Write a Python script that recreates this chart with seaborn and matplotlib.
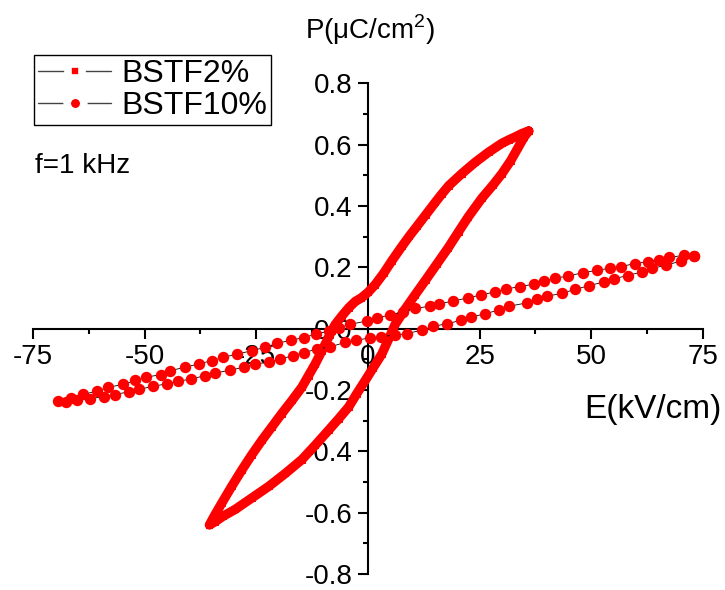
import pandas as pd
import seaborn as sns
import matplotlib.pyplot as plt
from matplotlib.lines import Line2D
from matplotlib.ticker import MultipleLocator, FormatStrFormatter

# BSTF2% loop, upper branch (E going down) then lower branch (E going up)
E2_up = [36.0, 34.5, 33.0, 31.5, 30.0, 27.0, 24.0, 21.0, 18.1, 16.5, 15.1, 13.0, 11.0, 9.3, 7.6,
         5.4, 3.5, 1.6, 0.0, -1.5, -2.8, -4.3, -5.8, -7.3, -8.1, -9.2, -10.3, -11.8, -13.3, -14.8,
         -17.0, -19.3, -21.5, -23.7, -26.0, -28.2, -30.5, -32.7, -34.3, -35.5]
P2_up = [0.644, 0.636, 0.625, 0.615, 0.604, 0.575, 0.542, 0.505, 0.466, 0.438, 0.412, 0.372, 0.334, 0.302, 0.268,
         0.222, 0.180, 0.143, 0.118, 0.100, 0.089, 0.068, 0.042, 0.014, -0.007, -0.040, -0.072, -0.115, -0.153, -0.191,
         -0.234, -0.277, -0.320, -0.363, -0.411, -0.460, -0.514, -0.568, -0.608, -0.640]
E2_dn = [-35.5, -34.3, -32.5, -29.7, -26.0, -22.2, -18.5, -14.8, -11.8, -8.8, -6.5, -4.3, -2.5, -0.6,
         1.2, 3.1, 4.6, 6.1, 8.3, 10.6, 13.0, 15.5, 18.0, 20.3, 22.5, 25.5, 28.0, 30.0, 32.0, 33.7,
         35.0, 36.0]
P2_dn = [-0.640, -0.630, -0.612, -0.589, -0.552, -0.514, -0.472, -0.427, -0.380, -0.331, -0.293, -0.255, -0.212, -0.169,
         -0.127, -0.083, -0.035, 0.014, 0.063, 0.111, 0.160, 0.212, 0.264, 0.316, 0.365, 0.425, 0.468, 0.505, 0.548, 0.592,
         0.625, 0.644]

# BSTF10% loop
E10_up = [73.1, 70.7, 67.4, 65.1, 62.8, 59.7, 56.6, 54.3, 51.2, 48.1, 44.9, 41.8, 39.5, 37.2, 34.0,
          30.9, 28.5, 25.4, 22.3, 19.1, 16.0, 13.8, 10.6, 7.8, 5.0, 2.0, -0.2, -4.0, -6.5, -8.8,
          -11.6, -14.4, -17.2, -20.4, -23.0, -26.0, -29.3, -32.5, -34.9, -37.9, -41.0, -44.3, -46.3,
          -49.7, -52.1, -54.8, -58.2, -60.7, -63.7, -66.6, -69.4]
P10_up = [0.236, 0.239, 0.232, 0.225, 0.218, 0.212, 0.202, 0.197, 0.190, 0.182, 0.172, 0.164, 0.155, 0.145, 0.137,
          0.129, 0.120, 0.110, 0.100, 0.090, 0.081, 0.073, 0.066, 0.055, 0.044, 0.036, 0.025, 0.014, 0.003, -0.008,
          -0.018, -0.029, -0.038, -0.048, -0.061, -0.072, -0.083, -0.094, -0.104, -0.115, -0.126, -0.137, -0.150,
          -0.158, -0.169, -0.182, -0.191, -0.204, -0.214, -0.225, -0.236]
E10_dn = [-67.6, -65.1, -62.2, -59.2, -56.7, -53.6, -51.2, -48.2, -45.0, -42.6, -39.6, -36.4, -34.2,
          -30.8, -27.8, -25.4, -22.2, -19.6, -16.8, -14.4, -11.4, -8.4, -5.1, -2.7, 0.5, 3.0, 6.1,
          8.7, 12.1, 14.5, 17.7, 20.8, 23.1, 26.2, 29.3, 31.6, 35.6, 37.9, 40.2, 43.4, 46.4, 49.5,
          52.8, 55.1, 58.2, 61.3, 63.6, 66.8, 70.0, 73.1]
P10_dn = [-0.239, -0.234, -0.228, -0.222, -0.215, -0.206, -0.198, -0.188, -0.180, -0.172, -0.164, -0.153, -0.145,
          -0.135, -0.126, -0.115, -0.110, -0.099, -0.088, -0.078, -0.067, -0.059, -0.045, -0.038, -0.030, -0.026, -0.021,
          -0.016, -0.005, 0.007, 0.016, 0.027, 0.038, 0.048, 0.061, 0.073, 0.084, 0.096, 0.106, 0.115, 0.128, 0.140,
          0.152, 0.163, 0.173, 0.185, 0.196, 0.207, 0.220, 0.236]

labels = ["BSTF2%", "BSTF10%"]

sns.set_theme(style="ticks")
plt.rcParams['font.family'] = ['Liberation Sans', 'DejaVu Sans']
plt.rcParams['text.color'] = 'black'
plt.rcParams['axes.unicode_minus'] = False
plt.rcParams['mathtext.fontset'] = 'custom'
plt.rcParams['mathtext.rm'] = 'Liberation Sans'

bstf2 = pd.DataFrame({"E": E2_up + E2_dn, "P": P2_up + P2_dn})
bstf10 = pd.DataFrame({"E": E10_up + E10_dn, "P": P10_up + P10_dn})

fig = plt.figure(figsize=(7.25, 5.9), dpi=100)
ax = fig.add_axes([0.0455, 0.027, 0.924, 0.832])

sns.lineplot(data=bstf2, x="E", y="P", sort=False, estimator=None, color="red", lw=6.8,
             marker="s", ms=5, mec="red", mfc="red", ax=ax, zorder=3)
sns.lineplot(data=bstf10, x="E", y="P", sort=False, estimator=None, color="black", lw=0.6,
             marker="o", ms=8.2, mec="red", mfc="red", mew=0, ax=ax, zorder=3)

ax.set_xlim(-75, 75)
ax.set_ylim(-0.8, 0.8)
ax.set_xlabel("")
ax.set_ylabel("")
ax.spines['left'].set_position(('data', 0))
ax.spines['bottom'].set_position(('data', 0))
ax.spines['right'].set_visible(False)
ax.spines['top'].set_visible(False)
for s in ['left', 'bottom']:
    ax.spines[s].set_linewidth(1.5)
    ax.spines[s].set_color('black')

ax.xaxis.set_major_locator(MultipleLocator(25))
ax.xaxis.set_minor_locator(MultipleLocator(12.5))
ax.yaxis.set_major_locator(MultipleLocator(0.2))
ax.yaxis.set_minor_locator(MultipleLocator(0.1))
ax.xaxis.set_major_formatter(FormatStrFormatter('%d'))
ax.yaxis.set_major_formatter(FormatStrFormatter('%.1f'))
ax.tick_params(which='major', direction='out', length=7, width=1.5, labelsize=20, pad=4,
               colors='black')
ax.tick_params(which='minor', direction='out', length=3.6, width=1.5, colors='black')

fig.text(370 / 725, 1 - 39 / 590, "P(μC/cm$^{2}$)", ha='center', va='baseline', fontsize=20)
fig.text(722 / 725, 1 - 418 / 590, "E(kV/cm)", ha='right', va='baseline', fontsize=24)
fig.text(35 / 725, 1 - 173 / 590, "f=1 kHz", ha='left', va='baseline', fontsize=20)

# legend handles: thin grey line with a white gap around the red marker
handles = [Line2D([], [], color='#444444', lw=1, marker='s', ms=10, mfc='red', mec='white', mew=5.5),
           Line2D([], [], color='#444444', lw=1, marker='o', ms=12, mfc='red', mec='white', mew=5.5)]
leg = fig.legend(handles, labels, loc='upper left', bbox_to_anchor=(34 / 725, 1 - 55 / 590),
                 bbox_transform=fig.transFigure, borderaxespad=0, fontsize=23, frameon=True,
                 fancybox=False, framealpha=1, edgecolor='black', borderpad=0.12,
                 labelspacing=0.08, handlelength=2.3, handletextpad=0.3)
leg.get_frame().set_linewidth(1)

fig.savefig("out.png", dpi=100)
